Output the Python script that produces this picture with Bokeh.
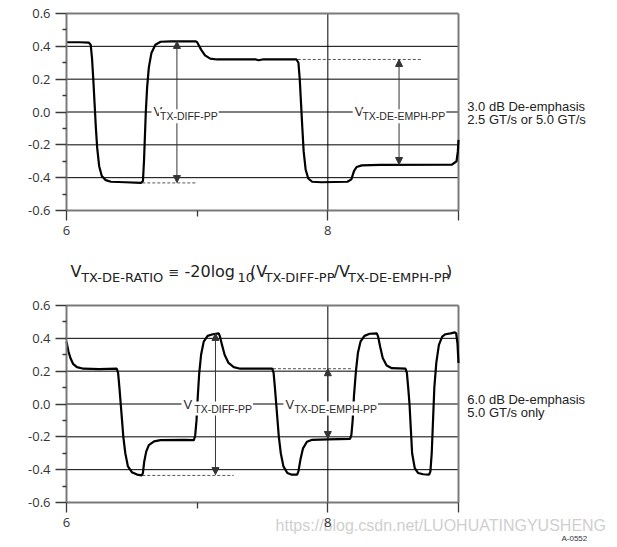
from bokeh.plotting import figure
from bokeh.models import FixedTicker, PrintfTickFormatter, Label, Arrow, NormalHead, Range1d
from bokeh.layouts import column
from bokeh.embed import file_html
from bokeh.resources import INLINE

# ---------------- data ----------------
x_ticks = [6, 8, 9]
x_minor = [7]
x_label_overrides = {9: ""}
y_ticks = [-0.6, -0.4, -0.2, 0.0, 0.2, 0.4, 0.6]
y_minor = [-0.5, -0.3, -0.1, 0.1, 0.3, 0.5]
grid_y = [-0.4, -0.2, 0.0, 0.2, 0.4]
grid_x = [8]
x_bounds = (6, 9)
y_bounds = (-0.6, 0.6)

# 3.0 dB de-emphasis waveform (time, volts)
wave3_x = [6.00, 6.10, 6.17, 6.185, 6.195, 6.205, 6.215, 6.225, 6.235, 6.25, 6.27, 6.30, 6.34, 6.45,
           6.57, 6.585, 6.593, 6.60, 6.607, 6.617, 6.63, 6.65, 6.68, 6.72, 6.80, 6.99, 7.00, 7.03,
           7.06, 7.10, 7.15, 7.45, 7.47, 7.50, 7.76, 7.775, 7.785, 7.795, 7.805, 7.815, 7.83, 7.85,
           7.88, 7.95, 8.15, 8.18, 8.20, 8.22, 8.26, 8.40, 8.95, 8.985, 8.995, 9.0]
wave3_y = [0.425, 0.425, 0.423, 0.41, 0.33, 0.2, 0.05, -0.1, -0.22, -0.33, -0.39, -0.415, -0.425, -0.428,
           -0.432, -0.42, -0.3, -0.15, 0.0, 0.15, 0.27, 0.36, 0.41, 0.428, 0.43, 0.43, 0.425, 0.38,
           0.345, 0.325, 0.32, 0.32, 0.315, 0.32, 0.32, 0.3, 0.2, 0.05, -0.1, -0.24, -0.35, -0.405,
           -0.425, -0.428, -0.425, -0.41, -0.36, -0.335, -0.325, -0.322, -0.32, -0.3, -0.24, -0.17]

# 6.0 dB de-emphasis waveform (time, volts)
wave6_x = [6.00, 6.015, 6.03, 6.05, 6.08, 6.13, 6.25, 6.385, 6.395, 6.405, 6.415, 6.425, 6.435, 6.45,
           6.47, 6.50, 6.54, 6.575, 6.585, 6.595, 6.61, 6.63, 6.67, 6.72, 6.90, 6.975, 6.985, 6.995,
           7.005, 7.015, 7.03, 7.05, 7.08, 7.12, 7.165, 7.175, 7.19, 7.21, 7.24, 7.28, 7.33, 7.575,
           7.585, 7.595, 7.605, 7.615, 7.625, 7.64, 7.66, 7.69, 7.72, 7.765, 7.775, 7.79, 7.81, 7.84,
           7.88, 8.0, 8.17, 8.18, 8.19, 8.20, 8.215, 8.23, 8.25, 8.28, 8.32, 8.375, 8.385, 8.40, 8.42,
           8.45, 8.49, 8.595, 8.605, 8.615, 8.625, 8.635, 8.645, 8.665, 8.69, 8.73, 8.775, 8.785, 8.795,
           8.805, 8.815, 8.83, 8.85, 8.875, 8.90, 8.94, 8.972, 8.982, 8.992, 9.0]
wave6_y = [0.38, 0.32, 0.28, 0.245, 0.225, 0.215, 0.213, 0.215, 0.19, 0.1, 0.0, -0.1, -0.2, -0.3,
           -0.38, -0.415, -0.43, -0.435, -0.42, -0.35, -0.29, -0.25, -0.228, -0.22, -0.218, -0.22, -0.19, -0.1,
           0.05, 0.18, 0.3, 0.38, 0.415, 0.425, 0.43, 0.41, 0.36, 0.3, 0.25, 0.225, 0.215, 0.215,
           0.19, 0.1, 0.0, -0.1, -0.2, -0.3, -0.38, -0.42, -0.43, -0.43, -0.41, -0.34, -0.27, -0.23,
           -0.218, -0.215, -0.212, -0.19, -0.1, 0.05, 0.2, 0.31, 0.38, 0.415, 0.428, 0.43, 0.41, 0.35, 0.28,
           0.235, 0.218, 0.215, 0.19, 0.1, 0.0, -0.15, -0.3, -0.39, -0.42, -0.428, -0.43, -0.41, -0.3,
           -0.1, 0.1, 0.25, 0.36, 0.41, 0.425, 0.43, 0.436, 0.43, 0.37, 0.25]

# annotations: dashed reference lines (x0, x1, y), arrows (x, y0, y1)
dash3 = [(6.58, 6.99, -0.432), (7.77, 8.72, 0.32)]
arrow3 = [(6.845, 0.43, -0.43), (8.545, 0.32, -0.32)]
dash6 = [(6.58, 7.28, -0.435), (7.58, 8.19, 0.215)]
arrow6 = [(7.14, 0.43, -0.43), (8.0, 0.215, -0.21)]
# labels: (x of V, x of subscript, subscript text)
labels3 = [(6.65, 6.708, "TX-DIFF-PP"), (8.19, 8.257, "TX-DE-EMPH-PP")]
labels6 = [(6.88, 6.97, "TX-DIFF-PP"), (7.66, 7.735, "TX-DE-EMPH-PP")]
side3 = ["3.0 dB De-emphasis", "2.5 GT/s or 5.0 GT/s"]
side3_y = [0.0335, -0.0457]
side6 = ["6.0 dB De-emphasis", "5.0 GT/s only"]
side6_y = [0.0274, -0.0518]
# formula pieces: (x, text, kind)  kind: main / sub / op
formula = [(6.031, "V", "main"), (6.112, "TX-DE-RATIO", "sub"), (6.781, "\u2261", "op"),
           (6.903, "-20log", "main"), (7.309, "10", "sub"), (7.405, "(V", "main"),
           (7.515, "TX-DIFF-PP", "sub"), (8.045, "/V", "main"), (8.155, "TX-DE-EMPH-PP", "sub"),
           (8.905, ")", "main")]
formula_y = {"main": -0.9716, "sub": -1.0081, "op": -0.9777}
formula_size = {"main": "16px", "sub": "13px", "op": "13px"}
watermark = "https://blog.csdn.net/LUOHUATINGYUSHENG"
fig_id = "A-0552"

FONT = "Liberation Sans"
FFONT = "DejaVu Sans"
AX = "#7a7a7a"
X_LO, X_HI = 5.4949, 10.1785


def make_fig(height, y_lo, y_hi):
    # frame spans the whole canvas; the axes are pinned to the chart box
    p = figure(width=612, height=height, x_range=Range1d(X_LO, X_HI), y_range=Range1d(y_lo, y_hi),
               output_backend="svg", toolbar_location=None,
               min_border_left=0, min_border_right=0, min_border_top=0, min_border_bottom=0)
    p.background_fill_color = "white"
    p.border_fill_color = "white"
    p.outline_line_color = None
    p.xgrid.visible = False
    p.ygrid.visible = False
    # chart box grid lines and borders
    n = len(grid_y)
    p.segment(x0=[x_bounds[0]] * n, x1=[x_bounds[1]] * n, y0=grid_y, y1=grid_y,
              line_color="black", line_width=1)
    m = len(grid_x)
    p.segment(x0=grid_x, x1=grid_x, y0=[y_bounds[0]] * m, y1=[y_bounds[1]] * m,
              line_color="black", line_width=1)
    p.segment(x0=[x_bounds[0], x_bounds[1]], x1=[x_bounds[1], x_bounds[1]],
              y0=[y_bounds[1], y_bounds[0]], y1=[y_bounds[1], y_bounds[1]],
              line_color=AX, line_width=2)
    # axes
    p.xaxis.fixed_location = y_bounds[0]
    p.yaxis.fixed_location = x_bounds[0]
    p.xaxis.bounds = x_bounds
    p.yaxis.bounds = y_bounds
    p.xaxis.ticker = FixedTicker(ticks=x_ticks, minor_ticks=x_minor)
    p.xaxis.major_label_overrides = x_label_overrides
    p.yaxis.ticker = FixedTicker(ticks=y_ticks, minor_ticks=y_minor)
    p.yaxis.formatter = PrintfTickFormatter(format="%.1f")
    for ax in (p.xaxis[0], p.yaxis[0]):
        ax.axis_line_color = AX
        ax.axis_line_width = 2
        ax.major_tick_in = 0
        ax.minor_tick_in = 0
        ax.major_tick_line_color = "#3a3a3a"
        ax.minor_tick_line_color = "#3a3a3a"
        ax.major_tick_line_width = 1.3
        ax.minor_tick_line_width = 1.3
        ax.major_label_text_font = "Open Sans"
        ax.major_label_text_font_size = "13px"
        ax.major_label_text_color = "#333333"
    p.yaxis.major_tick_out = 11
    p.yaxis.minor_tick_out = 4
    p.yaxis.major_label_standoff = 5
    p.xaxis.major_tick_out = 10
    p.xaxis.minor_tick_out = 6
    p.xaxis.major_label_standoff = 5
    return p


def add_marks(p, wx, wy, dashes, arrows, labels, side, side_y, v_off, s_off):
    for x0, x1, y in dashes:
        p.line([x0, x1], [y, y], line_color="#555555", line_width=1, line_dash="3 2")
    p.line(wx, wy, line_color="black", line_width=2.2)
    for x, y0, y1 in arrows:
        p.add_layout(Arrow(x_start=x, y_start=y0, x_end=x, y_end=y1, line_color="#333333", line_width=1,
                           start=NormalHead(size=7, fill_color="#333333", line_color="#333333", line_width=1),
                           end=NormalHead(size=7, fill_color="#333333", line_color="#333333", line_width=1)))
    for xv, xs, sub in labels:
        p.add_layout(Label(x=xv, y=0, text="V", text_font=FONT, text_font_size="13px", text_color="#2a2a2a",
                           text_baseline="middle", y_offset=v_off, background_fill_color="white", padding=2))
        p.add_layout(Label(x=xs, y=0, text=sub, text_font=FONT, text_font_size="10.5px", text_color="#2a2a2a",
                           text_baseline="middle", y_offset=s_off, background_fill_color="white", padding=1))
    for t, yy in zip(side, side_y):
        p.add_layout(Label(x=9.067, y=yy, text=t, text_font=FONT, text_font_size="13px", text_color="#222222",
                           text_baseline="middle"))


# ---------- top chart (with the ratio formula underneath) ----------
p1 = make_fig(290, -1.0873, 0.6792)
add_marks(p1, wave3_x, wave3_y, dash3, arrow3, labels3, side3, side3_y, 1, -4.3)
for x, t, kind in formula:
    p1.add_layout(Label(x=x, y=formula_y[kind], text=t, text_font=FFONT,
                        text_font_size=formula_size[kind], text_color="#222222",
                        text_baseline="alphabetic"))

# ---------- bottom chart ----------
p2 = make_fig(255, -0.8619, 0.6914)
add_marks(p2, wave6_x, wave6_y, dash6, arrow6, labels6, side6, side6_y, 0, -4.5)
p2.add_layout(Label(x=7.60, y=-0.74, text=watermark, text_font=FONT, text_font_size="16px",
                    text_color="#cfcfcf", text_baseline="middle", level="underlay"))
p2.add_layout(Label(x=9.788, y=-0.8193, text=fig_id, text_font=FONT, text_font_size="8px",
                    text_color="#333344", text_baseline="middle"))

layout = column(p1, p2, spacing=0)
open("out.html", "w").write(file_html(layout, INLINE))
